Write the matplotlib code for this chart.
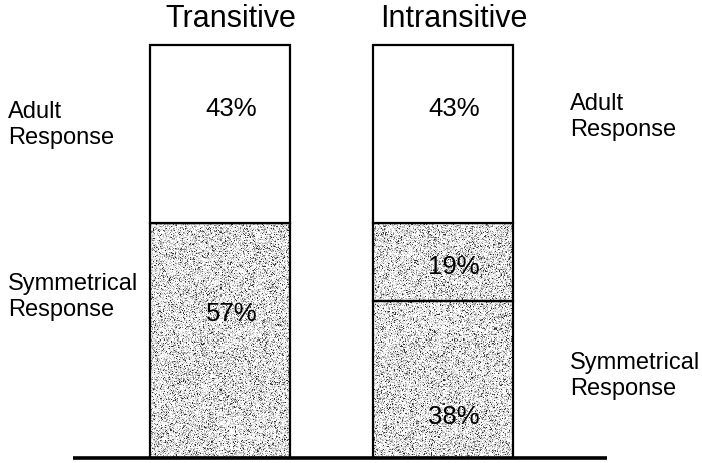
import numpy as np
import matplotlib.pyplot as plt

plt.rcParams["font.family"] = ["Liberation Sans", "DejaVu Sans"]

# response shares per verb type, bottom segment first
categories = ["Transitive", "Intransitive"]
symmetrical = [57, 38]
symmetrical_extra = [0, 19]
adult = [43, 43]

fig = plt.figure(figsize=(7.02, 4.63), dpi=100)
ax = fig.add_axes([0, 0, 1, 1])
ax.set_xlim(-0.987, 2.161)
ax.set_ylim(-1.21, 110.9)
ax.axis("off")

x = np.arange(len(categories))
width = 0.628
rng = np.random.default_rng(3)


def stipple(x0, y0, w, h):
    # grainy grey fill, one sample per screen pixel
    (a, b), (c, d) = ax.transData.transform([(x0, y0), (x0 + w, y0 + h)])
    nx, ny = int(abs(c - a)), int(abs(d - b))
    levels = np.array([255, 228, 185, 125, 50])
    img = rng.choice(levels, size=(ny, nx), p=[0.42, 0.26, 0.17, 0.10, 0.05])
    ax.imshow(img, cmap="gray", vmin=0, vmax=255, extent=(x0, x0 + w, y0, y0 + h),
              interpolation="nearest", aspect="auto", zorder=1)


bottoms = np.zeros(len(categories))
for i in x:
    stipple(i - width / 2, 0, width, symmetrical[i] + symmetrical_extra[i])

ax.bar(x, symmetrical, width, color="none", edgecolor="black", linewidth=1.6, zorder=2)
bottoms += symmetrical
ax.bar(x, symmetrical_extra, width, bottom=bottoms, color="none", edgecolor="black",
       linewidth=1.6, zorder=2)
bottoms += symmetrical_extra
ax.bar(x, adult, width, bottom=bottoms, color="white", edgecolor="black",
       linewidth=1.6, zorder=2)

# segment labels sit a little right of the bar centre
fs = 18.5
dx = 0.05
low_label_frac = [0.61, 0.26]
for i in x:
    ax.text(i + dx, bottoms[i] + adult[i] * 0.64, f"{adult[i]}%", ha="center",
            va="center", fontsize=fs, zorder=3)
    lo = symmetrical[i]
    ax.text(i + dx, lo * low_label_frac[i], f"{lo}%", ha="center", va="center",
            fontsize=fs, zorder=3)
    if symmetrical_extra[i]:
        ax.text(i + dx, lo + symmetrical_extra[i] * 0.43, f"{symmetrical_extra[i]}%",
                ha="center", va="center", fontsize=fs, zorder=3)
    ax.text(i + dx, 106.3, categories[i], ha="center", va="center", fontsize=22)

# baseline
ax.plot([-0.659, 1.735], [0, 0], color="black", linewidth=2.6, solid_capstyle="butt", zorder=4)

# side captions
side = 17
ls = 1.25
ax.text(-0.95, 80.6, "Adult\nResponse", ha="left", va="center", fontsize=side, linespacing=ls)
ax.text(-0.95, 38.9, "Symmetrical\nResponse", ha="left", va="center", fontsize=side,
        linespacing=ls)
ax.text(1.57, 82.6, "Adult\nResponse", ha="left", va="center", fontsize=side, linespacing=ls)
ax.text(1.57, 19.9, "Symmetrical\nResponse", ha="left", va="center", fontsize=side,
        linespacing=ls)

fig.savefig("out.png", dpi=100)
